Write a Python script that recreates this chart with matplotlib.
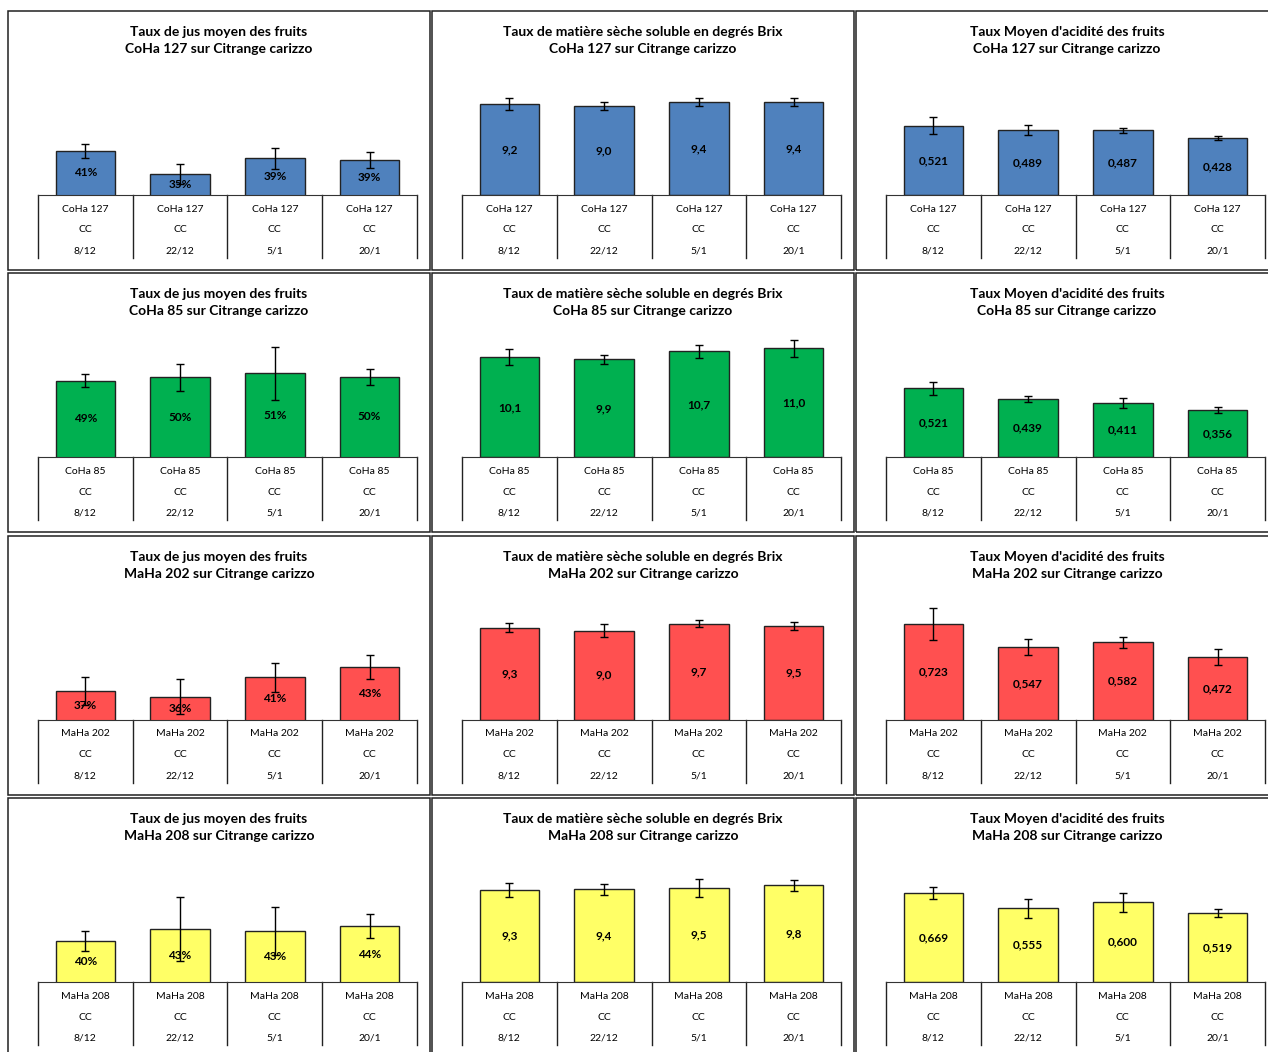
import matplotlib
matplotlib.use('Agg')
import matplotlib.pyplot as plt
from matplotlib.patches import Rectangle

plt.rcParams['font.family'] = ['Lato', 'DejaVu Sans']

dates = ['8/12', '22/12', '5/1', '20/1']
rootstock = 'CC'
varieties = ['CoHa 127', 'CoHa 85', 'MaHa 202', 'MaHa 208']
bar_colors = ['#4F81BD', '#00B050', '#FF5050', '#FFFF66']

# taux de jus (fraction)
jus_coha127 = [0.410, 0.352, 0.392, 0.388]
jus_coha127_err = [0.0175, 0.025, 0.026, 0.020]
jus_coha85 = [0.492, 0.500, 0.510, 0.502]
jus_coha85_err = [0.017, 0.033, 0.066, 0.020]
jus_maha202 = [0.372, 0.358, 0.406, 0.432]
jus_maha202_err = [0.035, 0.043, 0.037, 0.030]
jus_maha208 = [0.402, 0.434, 0.428, 0.440]
jus_maha208_err = [0.025, 0.080, 0.060, 0.030]

# degres Brix
brix_coha127 = [9.2, 9.0, 9.4, 9.4]
brix_coha127_err = [0.59, 0.40, 0.44, 0.44]
brix_coha85 = [10.1, 9.9, 10.7, 11.0]
brix_coha85_err = [0.80, 0.45, 0.70, 0.90]
brix_maha202 = [9.3, 9.0, 9.7, 9.5]
brix_maha202_err = [0.47, 0.67, 0.35, 0.42]
brix_maha208 = [9.3, 9.4, 9.5, 9.8]
brix_maha208_err = [0.67, 0.56, 0.91, 0.54]

# acidite
acid_coha127 = [0.521, 0.489, 0.487, 0.428]
acid_coha127_err = [0.064, 0.041, 0.019, 0.015]
acid_coha85 = [0.521, 0.439, 0.411, 0.356]
acid_coha85_err = [0.049, 0.021, 0.039, 0.021]
acid_maha202 = [0.723, 0.547, 0.582, 0.472]
acid_maha202_err = [0.120, 0.058, 0.041, 0.061]
acid_maha208 = [0.669, 0.555, 0.600, 0.519]
acid_maha208_err = [0.045, 0.069, 0.071, 0.030]

jus = [(jus_coha127, jus_coha127_err), (jus_coha85, jus_coha85_err),
       (jus_maha202, jus_maha202_err), (jus_maha208, jus_maha208_err)]
brix = [(brix_coha127, brix_coha127_err), (brix_coha85, brix_coha85_err),
        (brix_maha202, brix_maha202_err), (brix_maha208, brix_maha208_err)]
acid = [(acid_coha127, acid_coha127_err), (acid_coha85, acid_coha85_err),
        (acid_maha202, acid_maha202_err), (acid_maha208, acid_maha208_err)]

titles = ['Taux de jus moyen des fruits',
          'Taux de matière sèche soluble en degrés Brix',
          "Taux Moyen d'acidité des fruits"]
ylims = [(0.30, 0.65), (0, 14.14), (0, 1.053)]
fmts = [lambda v: '%d%%' % round(v * 100),
        lambda v: ('%.1f' % v).replace('.', ','),
        lambda v: ('%.3f' % v).replace('.', ',')]

W, H = 1268, 1052
fig = plt.figure(figsize=(W / 100, H / 100), dpi=100)

AX_H = 140  # pixels of plot area above the baseline

for r, var in enumerate(varieties):
    for c, measure in enumerate([jus, brix, acid]):
        vals, errs = measure[r]
        px0 = 8 + c * 424
        py0 = 11 + r * 262.4

        fig.add_artist(Rectangle((px0 / W, 1 - (py0 + 259) / H), 422 / W, 259 / H,
                                 transform=fig.transFigure, fill=False,
                                 ec='#202020', lw=1.1))
        fig.text((px0 + 211) / W, 1 - (py0 + 29.5) / H,
                 '%s\n%s sur Citrange carizzo' % (titles[c], var),
                 ha='center', va='center', fontsize=10, fontweight='bold',
                 linespacing=1.5)

        base = py0 + 184
        ax = fig.add_axes([(px0 + 30) / W, 1 - base / H, 379 / W, AX_H / H])
        x = list(range(len(vals)))
        ax.bar(x, vals, width=0.63, color=bar_colors[r], edgecolor='#222222',
               linewidth=1, zorder=2)
        ax.errorbar(x, vals, yerr=errs, fmt='none', ecolor='black',
                    elinewidth=1, capsize=2.6, capthick=1, zorder=4)
        ymin, ymax = ylims[c]
        ax.set_ylim(ymin, ymax)
        ax.set_xlim(-0.5, 3.5)
        for xi, v in zip(x, vals):
            ax.text(xi, (ymin + v) / 2, fmts[c](v), ha='center', va='center',
                    fontsize=8.5, fontweight='bold', zorder=3)

        for s in ['top', 'left', 'right']:
            ax.spines[s].set_visible(False)
        ax.spines['bottom'].set_color('#333333')
        ax.set_xticks([])
        ax.set_yticks([])
        ax.patch.set_alpha(0)

        tr = ax.get_xaxis_transform()
        for b in [-0.5, 0.5, 1.5, 2.5, 3.5]:
            ax.plot([b, b], [0, -63 / AX_H], transform=tr, color='#222222',
                    lw=1, clip_on=False)
        for xi, d in zip(x, dates):
            for k, lab in enumerate([var, rootstock, d]):
                ax.text(xi, -(14 + 21 * k) / AX_H, lab, transform=tr,
                        ha='center', va='center', fontsize=7.5)

fig.savefig('out.png', dpi=100)
